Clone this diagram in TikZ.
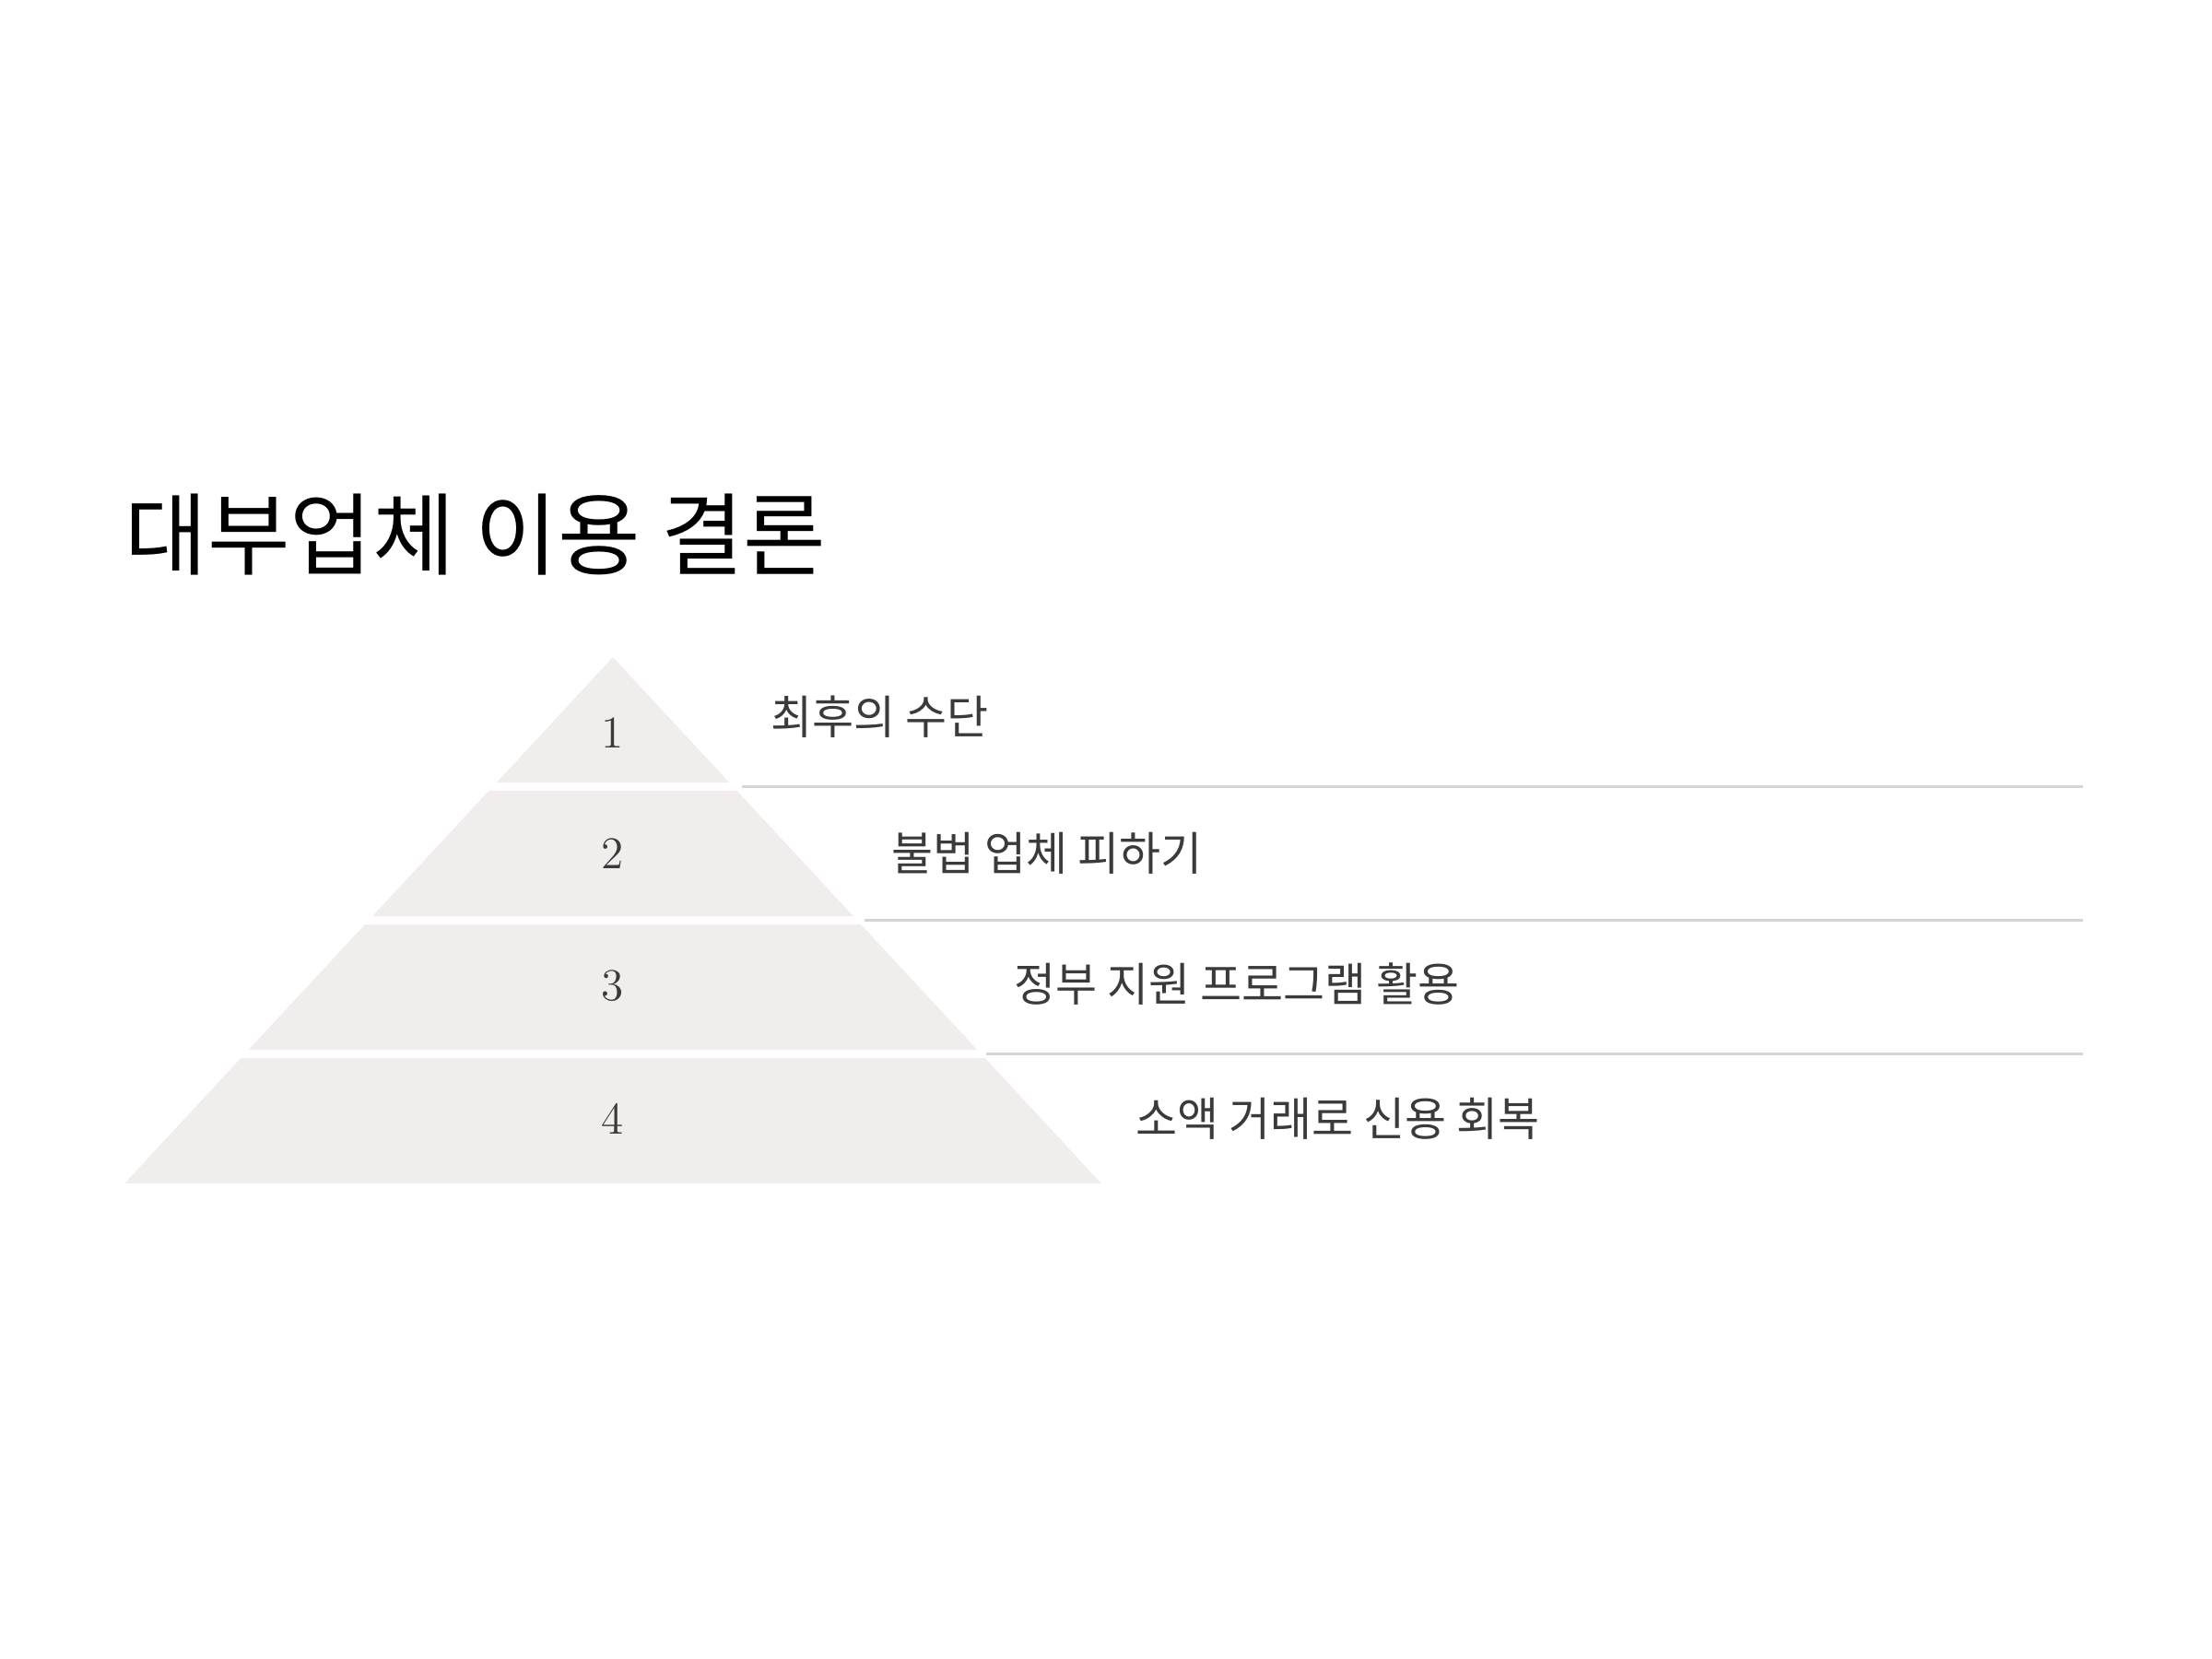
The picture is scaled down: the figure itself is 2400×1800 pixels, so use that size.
\documentclass[tikz,border=0pt]{standalone}
\usepackage{fontspec}
\newfontfamily\krfont{Noto Sans CJK KR}
\newfontfamily\krcond[FakeStretch=0.98]{Noto Sans CJK KR}
\definecolor{tierfill}{RGB}{240,237,236}
\definecolor{sepline}{RGB}{216,212,212}
\definecolor{txt}{RGB}{58,58,58}
\begin{document}
\begin{tikzpicture}[x=0.01cm,y=-0.01cm,
  tier/.style={fill=tierfill,draw=none},
  sep/.style={draw=sepline,line width=0.85pt},
  num/.style={text=txt,font=\fontsize{14}{16}\selectfont,inner sep=0pt},
  lbl/.style={text=txt,font=\krcond\fontsize{14.2}{17}\selectfont,anchor=west,inner sep=0pt},
  ttl/.style={text=black,font=\krfont\fontsize{27.7}{34}\selectfont,anchor=west,inner sep=0pt}]
\useasboundingbox (0,0) rectangle (2400,1800);
\node[ttl] (title) at (135,580) {대부업체 이용 결론};
% tiers
\path[tier] (665,713) -- (791.2,849) -- (538.8,849) -- cycle;
\path[tier] (530.4,858) -- (799.6,858) -- (925.8,994) -- (404.2,994) -- cycle;
\path[tier] (395.9,1003) -- (934.1,1003) -- (1060.3,1139) -- (269.7,1139) -- cycle;
\path[tier] (261.3,1148) -- (1068.7,1148) -- (1194.9,1284) -- (135.1,1284) -- cycle;
% numbers
\node[num] (n1) at (665,795) {1};
\node[num] (n2) at (665,926) {2};
\node[num] (n3) at (665,1070) {3};
\node[num] (n4) at (665,1214) {4};
% separator lines
\coordinate (s1a) at (805,853.5);  \coordinate (s1b) at (2260,853.5);
\coordinate (s2a) at (938,998.5);  \coordinate (s2b) at (2260,998.5);
\coordinate (s3a) at (1070,1143.5); \coordinate (s3b) at (2260,1143.5);
\draw[sep] (s1a) -- (s1b);
\draw[sep] (s2a) -- (s2b);
\draw[sep] (s3a) -- (s3b);
% labels
\node[lbl] (l1) at (836,778) {최후의 수단};
\node[lbl] (l2) at (967,926) {불법 업체 피하기};
\node[lbl] (l3) at (1100,1068) {정부 지원 프로그램 활용};
\node[lbl] (l4) at (1232,1214) {소액 거래로 신용 회복};
\end{tikzpicture}
\end{document}
